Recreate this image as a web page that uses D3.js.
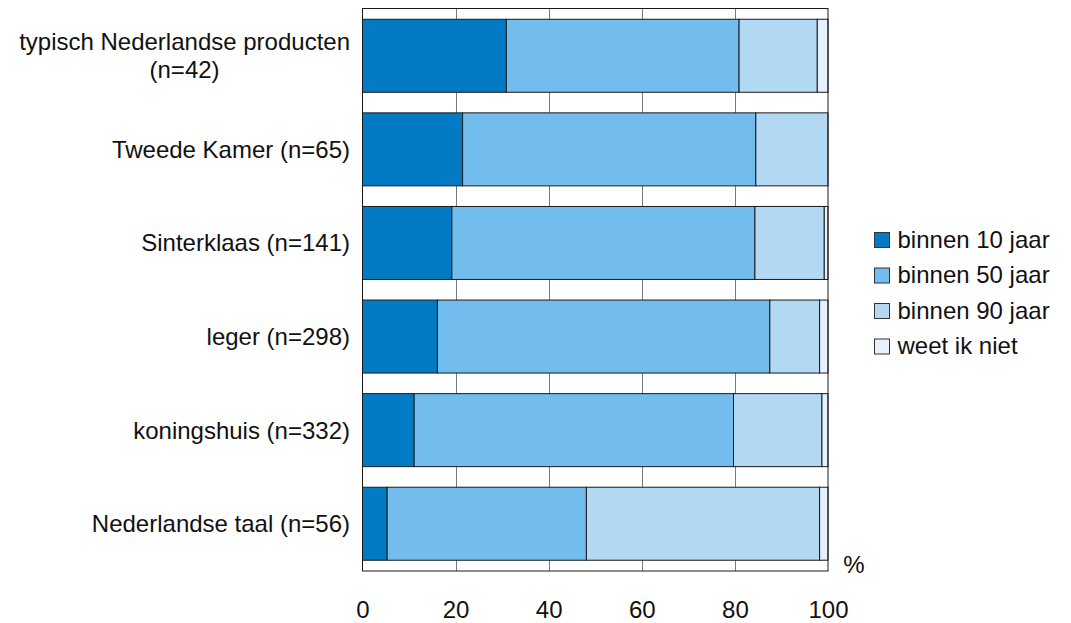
<!DOCTYPE html>
<html>
  <head>
  <title>Verdwijnen binnen ... jaar</title>
  </head>
  <body>
    <style>
        body, html {
          margin: 0;
          padding: 0;
          background: #fff;
        }
        text {
          font-family: Arial, "Liberation Sans", sans-serif;
          fill: #111;
        }
      </style>

  <svg id="svg" width="1071" height="623"></svg>

  <script src="https://d3js.org/d3.v7.min.js"></script>
  <script>
    // categories (a "\n" breaks the label in two lines)
    const categories = [
        'typisch Nederlandse producten\n(n=42)',
        'Tweede Kamer (n=65)',
        'Sinterklaas (n=141)',
        'leger (n=298)',
        'koningshuis (n=332)',
        'Nederlandse taal (n=56)'
    ]
    // series, percentages
    const seriesNames = ['binnen 10 jaar', 'binnen 50 jaar', 'binnen 90 jaar', 'weet ik niet']
    const binnen10 = [30.9, 21.5, 19.2, 16.1, 11.1, 5.3]
    const binnen50 = [50.0, 63.0, 65.1, 71.4, 68.6, 42.8]
    const binnen90 = [16.8, 15.5, 14.9, 10.7, 19.0, 50.1]
    const weetNiet = [2.3, 0, 0.8, 1.8, 1.3, 1.8]
    const colors = ['#027bc4', '#72bded', '#b2d8f4', '#e5f1fc']
    const tickValues = [0, 20, 40, 60, 80, 100]

    const plot = { left: 362.5, right: 828, top: 8.5, bottom: 571 }

    const svg = d3.select('#svg')

    // x scale for percentages
    const xscale = d3.scaleLinear()
        .domain([0, 100])
        .range([plot.left, plot.right])

    // y band scale for the categories
    const yscale = d3.scaleBand()
        .domain(categories)
        .range([plot.top, plot.bottom])
        .paddingInner(0.22)
        .paddingOuter(0.115)

    // build the stacked table
    const table = categories.map((c, i) => ({
        cat: c,
        'binnen 10 jaar': binnen10[i],
        'binnen 50 jaar': binnen50[i],
        'binnen 90 jaar': binnen90[i],
        'weet ik niet': weetNiet[i]
    }))
    const stacked = d3.stack().keys(seriesNames)(table)

    // grid lines behind the bars
    svg.append('g')
        .selectAll('line')
        .data(tickValues.slice(1, -1))
        .join('line')
        .attr('x1', d => Math.round(xscale(d)) + 0.5)
        .attr('x2', d => Math.round(xscale(d)) + 0.5)
        .attr('y1', plot.top)
        .attr('y2', plot.bottom)
        .attr('stroke', '#7a7a7a')
        .attr('stroke-width', 1)

    // bars
    svg.append('g')
        .selectAll('g')
        .data(stacked)
        .join('g')
        .attr('fill', (d, i) => colors[i])
        .selectAll('rect')
        .data(d => d.filter(p => p[1] - p[0] > 0))
        .join('rect')
        .attr('x', d => xscale(d[0]))
        .attr('width', d => xscale(d[1]) - xscale(d[0]))
        .attr('y', d => yscale(d.data.cat))
        .attr('height', yscale.bandwidth())
        .attr('stroke', '#1a1a1a')
        .attr('stroke-width', 1)

    // frame of the plot
    svg.append('rect')
        .attr('x', plot.left)
        .attr('y', plot.top)
        .attr('width', plot.right - plot.left)
        .attr('height', plot.bottom - plot.top)
        .attr('fill', 'none')
        .attr('stroke', '#1a1a1a')
        .attr('stroke-width', 1)

    // bottom axis, labels only
    const bottomAxis = d3.axisBottom(xscale)
        .tickValues(tickValues)
        .tickSize(0)
        .tickPadding(30)
    const xg = svg.append('g')
        .attr('transform', `translate(0, ${plot.bottom})`)
        .call(bottomAxis)
    xg.select('.domain').remove()
    xg.selectAll('text')
        .attr('font-size', 24)
        .attr('font-family', 'Arial, "Liberation Sans", sans-serif')
        .attr('fill', '#111')

    // unit
    svg.append('text')
        .attr('x', 854)
        .attr('y', 573)
        .attr('text-anchor', 'middle')
        .attr('font-size', 24)
        .text('%')

    // category labels: block right-aligned, lines centered in the block
    const labelRight = 350
    const lineHeight = 28
    categories.forEach(c => {
        const lines = c.split('\n')
        const cy = yscale(c) + yscale.bandwidth() / 2
        const t = svg.append('text')
            .attr('font-size', 24)
            .attr('text-anchor', 'middle')
        lines.forEach((l, i) => {
            t.append('tspan')
                .attr('y', cy + 8.5 + (i - (lines.length - 1) / 2) * lineHeight)
                .text(l)
        })
        const w = d3.max(t.selectAll('tspan').nodes(), n => n.getComputedTextLength())
        t.selectAll('tspan').attr('x', labelRight - w / 2)
    })

    // legend
    const legend = svg.append('g')
        .attr('transform', 'translate(874.5, 232.5)')
    const item = legend.selectAll('g')
        .data(seriesNames)
        .join('g')
        .attr('transform', (d, i) => `translate(0, ${i * 35.5})`)
    item.append('rect')
        .attr('width', 15)
        .attr('height', 15)
        .attr('fill', (d, i) => colors[i])
        .attr('stroke', '#333')
        .attr('stroke-width', 1)
    item.append('text')
        .attr('x', 23)
        .attr('y', 15)
        .attr('font-size', 24)
        .text(d => d)
  </script>
  </body>
</html>
